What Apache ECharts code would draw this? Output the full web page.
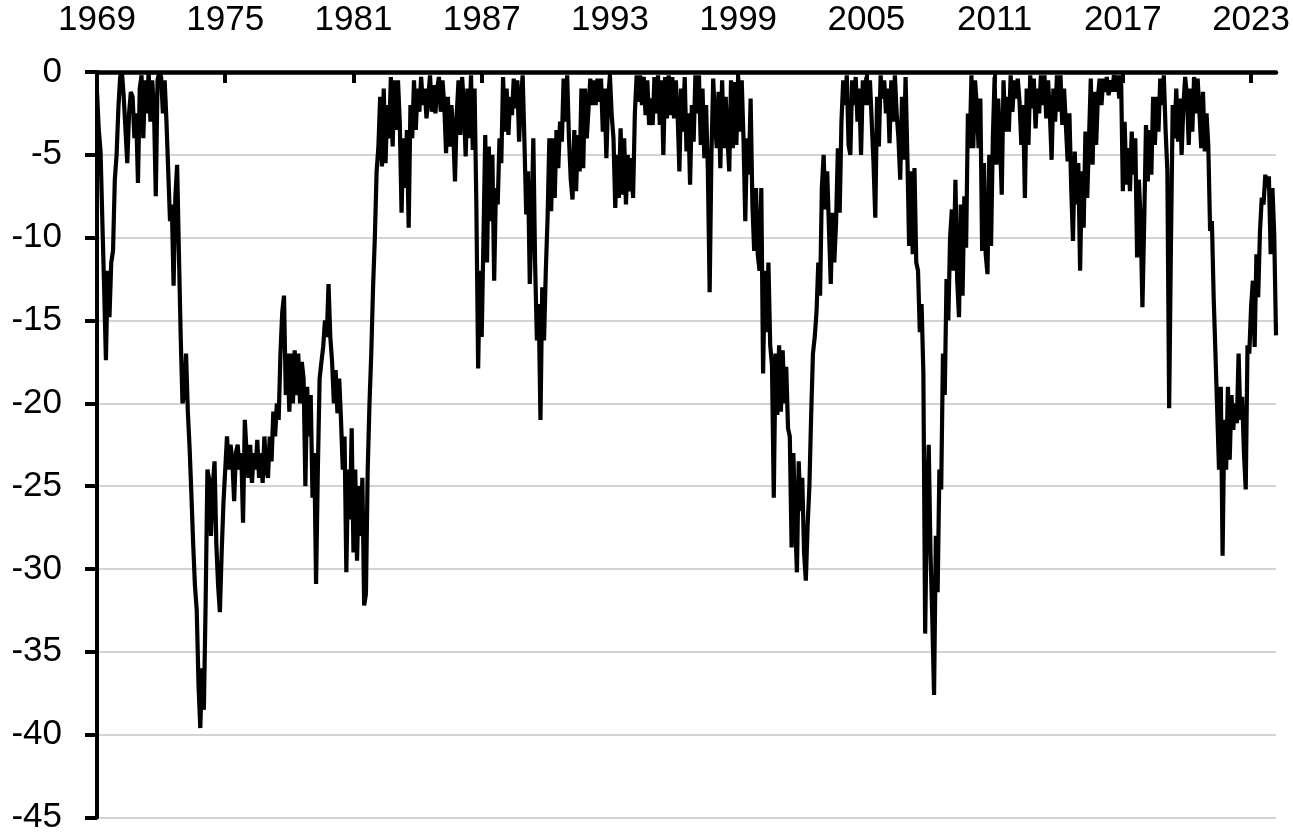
<!DOCTYPE html>
<html lang="en" style="height: 100%;width: 100%">
<head>
    <meta charset="utf-8">
</head>
<body style="height: 100%;width: 100%; margin: 0; background: #fff">
<div id="container" style="width: 1293px; height: 835px;"></div>

<script type="text/javascript" src="https://cdn.jsdelivr.net/npm/echarts/dist/echarts.min.js"></script>
<script type="text/javascript">
    // monthly drawdown (%), one row per year
    var startYear = 1969;
    var labelEvery = 72;   // one label every 6 years
    var drawdown = [
        -1.2, -3.5, -4.8, -9, -13, -17.4, -12, -14.8, -11.5, -10.8, -6.5, -5,          // 1969
        -2.2, -0.3, 0, -1.5, -3.5, -5.5, -2.5, -1.2, -1.5, -4, -2.5, -6.7,             // 1970
        -1, -0.2, -4, -0.5, -2.5, 0, -3, -0.5, -2.2, -7.5, -0.5, 0,                    // 1971
        -0.3, -2.5, -0.5, -3, -6, -9, -8, -12.9, -7.5, -5.6, -11, -16,                 // 1972
        -20, -19.5, -17, -20.5, -22.7, -25.5, -28.5, -31, -32.5, -37, -39.6, -36,      // 1973
        -38.5, -32, -24, -24.6, -28, -25, -23.5, -28.5, -31, -32.6, -29, -26,          // 1974
        -24, -22, -24, -22.5, -23.5, -25.9, -23, -22.5, -24, -23, -27.2, -21,          // 1975
        -23, -24.5, -22.5, -24.8, -23, -24, -22.2, -24.5, -23, -24.8, -22, -24,        // 1976
        -24.5, -22, -23.5, -20.5, -22, -20, -21, -17, -14.5, -13.5, -19.5, -17,        // 1977
        -20.5, -17, -20, -16.8, -19.5, -17, -20, -17.5, -18.5, -25, -19, -22,          // 1978
        -19.5, -25.7, -23, -30.9, -24, -18.5, -17.5, -16.6, -15, -16, -12.8, -16,      // 1979
        -17.5, -20, -18, -20.6, -18.5, -21, -24, -22, -30.2, -24, -27, -21.5,          // 1980
        -29, -24, -29.5, -25, -28, -24.5, -32.2, -31.5, -24, -20, -17, -13,            // 1981
        -10, -6, -4.5, -1.5, -5.7, -1, -5.5, -2, -4, -0.3, -4.5, -0.5,                 // 1982
        -3.5, -0.5, -3, -8.5, -4, -7, -3.5, -9.4, -2, -4, -0.5, -3.5,                  // 1983
        -1, -2.4, -0.3, -2, -1, -2.8, -1.5, -0.2, -2.4, -0.8, -2.5, -1,                // 1984
        -0.3, -2.4, -0.5, -2, -4.9, -1.5, -4.5, -2, -3.5, -6.6, -2.5, -0.5,            // 1985
        -3.8, -0.3, -2, -5.1, -1, -4, -0.2, -4.7, -1, -8, -17.9, -12,                  // 1986
        -16, -10, -3.8, -11.5, -4.5, -9, -5, -12.6, -7, -8, -4, -5.5,                  // 1987
        -0.3, -3.6, -1, -3.8, -1.5, -2.6, -0.4, -2.2, -0.5, -4.2, -1.6, -0.2,          // 1988
        -4.2, -8.6, -6, -12.8, -9, -4, -11.6, -16.2, -14, -21, -13, -16.2,             // 1989
        -12, -8.8, -4, -8.4, -4, -7.6, -3.5, -5.8, -3, -4.2, -0.4, -3,                 // 1990
        -0.2, -4, -6.5, -7.7, -3.5, -7.2, -3.8, -6, -1, -5.8, -1, -4,                  // 1991
        -2.2, -0.4, -2, -0.5, -2, -0.4, -1.8, -0.4, -3.6, -1, -5.2, -1.6,              // 1992
        -0.2, -2.6, -4, -8.2, -5, -7.6, -3.4, -7.4, -4, -8, -5, -7.2,                  // 1993
        -5.2, -7.6, -2.5, -0.2, -1.8, -0.2, -2, -0.3, -2.6, -0.5, -3.2, -1.6,          // 1994
        -3.2, -0.3, -2.5, -0.2, -3.2, -0.5, -5, -0.3, -2.8, -0.2, -2.6, -0.3,          // 1995
        -2.8, -0.5, -2.5, -6, -1, -3.6, -0.3, -4.8, -2.5, -6.8, -2, -4.2,              // 1996
        -0.2, -2.5, -0.2, -4.4, -1, -5.2, -2, -6, -13.3, -5, -0.4, -3,                 // 1997
        -4.6, -1.2, -5.8, -0.5, -4.6, -1.5, -4, -6, -0.5, -4.6, -0.6, -4.4,            // 1998
        -0.2, -3.6, -0.5, -4, -9, -4, -6.2, -1.6, -8, -10.8, -7, -11,                  // 1999
        -12, -7, -18.2, -12, -15.7, -11.5, -16.5, -17.7, -25.7, -17, -20.7, -16.5,     // 2000
        -20.5, -16.8, -20, -17.8, -21.5, -22, -28.7, -23, -27, -30.2, -23.5, -26.5,    // 2001
        -24.5, -29, -30.7, -27.4, -25, -20.7, -17, -16, -14.5, -11.5, -13.5, -7,       // 2002
        -5, -8.3, -6, -9.5, -12.8, -8.5, -11.5, -9, -4.6, -8.5, -3, -0.5,              // 2003
        -2, -0.2, -4.4, -5, -0.5, -2, -0.3, -3, -1, -5, -0.5, -2,                      // 2004
        -0.3, -2, -0.5, -3, -5.5, -8.8, -1.5, -4.5, -0.2, -1.6, -0.5, -2.5,            // 2005
        -1, -4.3, -0.5, -3, -0.2, -2.5, -4, -6.5, -1.5, -5.3, -0.3, -5,                // 2006
        -10.5, -6, -11, -5.8, -11.5, -12, -15.7, -14, -18.2, -33.9, -26, -22.5,        // 2007
        -29, -33, -37.6, -28, -31.4, -24, -25.2, -17, -19.5, -12.5, -15, -10,          // 2008
        -8.3, -12, -6.5, -12.6, -14.8, -8, -13.5, -7.5, -10.6, -2.5, -4.6, -0.2,       // 2009
        -4.6, -0.5, -2, -4.6, -1.6, -10.8, -5.5, -11, -12.2, -5, -10.5, -4,            // 2010
        -0.3, -5.6, -1.6, -4, -7.4, -0.5, -3.6, -1.5, -3.6, -0.2, -2.4, -0.5,          // 2011
        -1.6, -0.4, -1.8, -4.4, -2, -7.6, -1, -4.4, -0.2, -2.2, -0.4, -3.4,            // 2012
        -1, -2.5, -0.2, -2, -0.2, -2.8, -0.5, -2.4, -5.3, -1, -3, -0.2,                // 2013
        -2.4, -0.2, -3.2, -1, -3.2, -5.4, -2.5, -7, -10.2, -4.8, -8, -5.5,             // 2014
        -12, -6, -9.4, -3.6, -7.6, -4, -0.4, -5.6, -1.2, -4.4, -1.5, -0.4,             // 2015
        -2, -0.4, -1.2, -0.3, -1.4, -0.5, -1.2, -0.2, -1.2, -0.2, -1.6, -0.2,          // 2016
        -7.2, -3, -6.8, -4.6, -7.2, -3.6, -6.2, -4, -11.2, -6.5, -9, -14.2,            // 2017
        -9, -3.2, -6.6, -3.5, -6.2, -1.5, -4.4, -1.5, -3.6, -0.4, -2, -0.2,            // 2018
        -3.5, -6, -20.3, -10.5, -2, -4, -1, -4.2, -1.6, -5, -2, -0.3,                  // 2019
        -1.5, -4.4, -1, -3.6, -0.3, -2.5, -0.4, -2.4, -4.6, -1.2, -4.8, -2.5,          // 2020
        -4.5, -9.6, -9, -13.6, -17, -20.5, -24, -19, -29.2, -21, -24, -19,             // 2021
        -23.4, -19.5, -21.6, -20, -21.2, -17, -21, -19.6, -23, -25.2, -16.5, -17,      // 2022
        -14.2, -12.6, -16.6, -11, -13.6, -9.6, -7.6, -8, -6.2, -7, -6.3, -11,          // 2023
        -7, -9.8, -15.9                                                                // 2024
    ];

    var months = [];
    for (var i = 0; i < drawdown.length; i++) {
        var y = startYear + Math.floor(i / 12);
        var m = (i % 12) + 1;
        months.push(y + '-' + (m < 10 ? '0' + m : m));
    }

    var yMin = -45, yMax = 0, yStep = 5;

    var dom = document.getElementById('container');
    var myChart = echarts.init(dom, null, {renderer: 'canvas'});

    function showEvery(index) {
        return index % labelEvery === 0;
    }

    var labelFont = 'Liberation Sans';

    var option = {
        animation: false,
        backgroundColor: '#ffffff',
        grid: {
            left: 97,
            right: 15,
            top: 72,
            bottom: 13
        },
        xAxis: {
            type: 'category',
            position: 'top',
            data: months,
            boundaryGap: false,
            axisLine: {
                show: true,
                onZero: false,
                lineStyle: {color: '#000', width: 4.5}
            },
            axisTick: {
                show: true,
                inside: true,
                length: 11,
                interval: function (index) { return showEvery(index); },
                lineStyle: {color: '#000', width: 4}
            },
            axisLabel: {
                interval: function (index) { return showEvery(index); },
                formatter: function (v) { return v.slice(0, 4); },
                color: '#000',
                fontSize: 35,
                fontFamily: labelFont,
                margin: 34
            },
            splitLine: {show: false}
        },
        yAxis: {
            type: 'value',
            min: yMin,
            max: yMax,
            interval: yStep,
            axisLine: {
                show: true,
                onZero: false,
                lineStyle: {color: '#000', width: 4}
            },
            axisTick: {
                show: true,
                length: 12,
                lineStyle: {color: '#000', width: 4}
            },
            axisLabel: {
                color: '#000',
                fontSize: 35,
                fontFamily: labelFont,
                margin: 35
            },
            splitLine: {
                show: true,
                lineStyle: {color: '#c4c4c4', width: 1.5}
            }
        },
        series: [
            {
                name: 'Drawdown',
                type: 'line',
                data: drawdown,
                symbol: 'none',
                lineStyle: {color: '#000', width: 4.2},
                z: 3
            }
        ]
    };
    myChart.setOption(option);
</script>
</body>
</html>
